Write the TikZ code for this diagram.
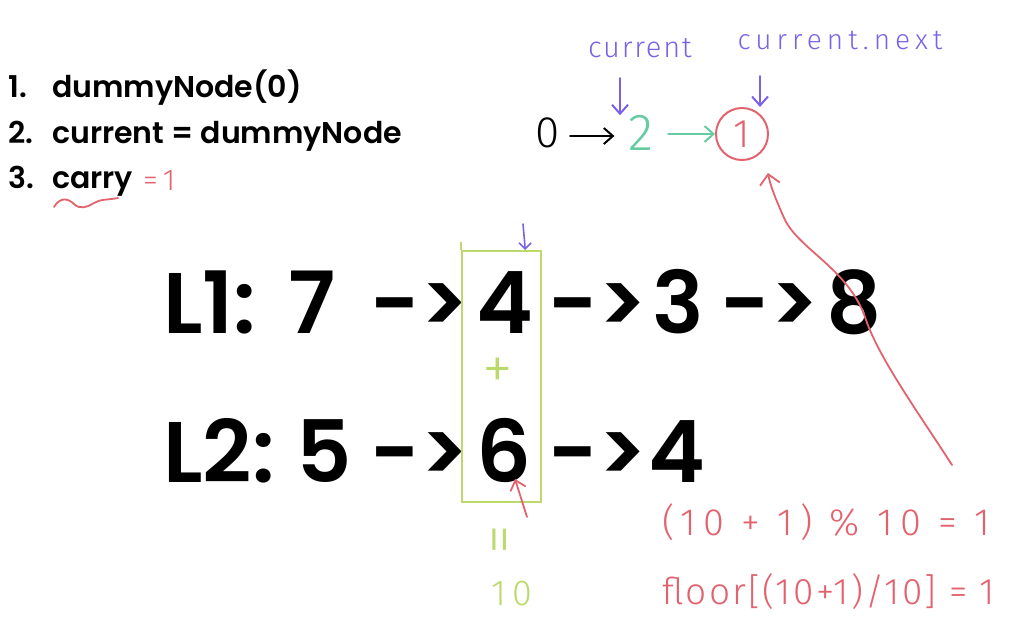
\documentclass[tikz,border=0pt]{standalone}
\usepackage{fontspec}
\setmainfont{Poppins}[UprightFont={* SemiBold}]
\newfontfamily\hand{Fira Sans}[UprightFont={* Light}]
\newfontfamily\handsp{Fira Sans}[UprightFont={* Light},LetterSpace=18]
\newfontfamily\handsm{Fira Sans}[UprightFont={* Light},LetterSpace=6]
\usetikzlibrary{arrows.meta}
\definecolor{hpurple}{HTML}{7A62E6}
\definecolor{hteal}{HTML}{66CBA0}
\definecolor{hred}{HTML}{E2636E}
\definecolor{hgreen}{HTML}{BCD96C}
\tikzset{
  lst/.style={font=\fontsize{30}{30}\selectfont, inner sep=0pt, anchor=base west},
  big/.style={font=\fontsize{86}{86}\selectfont, inner sep=0pt, anchor=base west},
  hw/.style={font=\hand\fontsize{30}{30}\selectfont, inner sep=0pt},
  barb/.style={-{Straight Barb[length=9pt,width=16pt]}, line width=2pt, line cap=round},
}
\begin{document}
\begin{tikzpicture}[x=1pt,y=-1pt]
\useasboundingbox (0,0) rectangle (1024,630);
% list
\node[lst] (k1) at (8,97) {1.};
\node[lst] (t1) at (52,97) {dummyNode(0)};
\node[lst] (k2) at (8,143) {2.};
\node[lst] (t2) at (52,143) {current = dummyNode};
\node[lst] (k3) at (8,188) {3.};
\node[lst] (t3) at (52,188) {carry};
\node[hw, text=hred, anchor=base west, font=\handsp\fontsize{30}{30}\selectfont] (eq1) at (143,190) {=1};
\draw[hred, line width=1.8pt, line cap=round] (54,207) .. controls (60,197) and (68,198) .. (74,204) .. controls (80,210) and (88,207) .. (94,203) .. controls (100,199) and (108,200) .. (118,198);
% top diagram
\node[hw, text=hpurple, font=\handsm\fontsize{29}{29}\selectfont] (cur) at (640,48) {current};
\node[hw, text=hpurple, font=\handsp\fontsize{28}{28}\selectfont] (curn) at (840,40) {current.next};
\node[hw, text=black, font=\hand\fontsize{44}{44}\selectfont] (z) at (548,133) {0};
\node[hw, text=hteal, font=\hand\fontsize{52}{52}\selectfont] (two) at (641,133) {2};
\node[hw, text=hred, draw=hred, line width=2pt, circle, minimum size=52pt, font=\hand\fontsize{40}{40}\selectfont] (one) at (742,134) {1};
\coordinate (za) at (570,136);
\draw[barb, black, shorten >=14pt] (za) -- (za -| two.west);
\coordinate (ta) at (668,134);
\draw[barb, hteal] (ta) -- (one.west);
\coordinate (ca) at (620,78);
\draw[barb, hpurple] (ca) -- (ca |- two.north);
\coordinate (cn) at (760,76);
\draw[barb, hpurple] (cn) -- (cn |- one.north);
% main lines
\node[big] (l1) at (163,333) {L1:};
\node[big] (n7) at (288,333) {7};
\node[big] (a1) at (370,333) {->};
\node[big] (n4) at (476,333) {4};
\node[big] (a2) at (548,333) {->};
\node[big] (n3) at (652,333) {3};
\node[big] (a3) at (720,333) {->};
\node[big] (n8) at (826,333) {8};
\node[big] (l2) at (163,482) {L2:};
\node[big] (n5) at (296,482) {5};
\node[big] (b1) at (370,482) {->};
\node[big] (n6) at (476,482) {6};
\node[big] (b2) at (548,482) {->};
\node[big] (m4) at (648,482) {4};
% green box
\node[draw=hgreen, line width=2pt, minimum width=79pt, minimum height=251pt, inner sep=0pt] (box) at (501.5,376.5) {};
\draw[hgreen, line width=2pt] (box.north west) -- ++(0,-8);
\node[hw, text=hgreen, font=\hand\fontsize{62}{62}\selectfont] (plus) at (498,374) {+};
\node[hw, text=hgreen, rotate=90, font=\hand\fontsize{60}{60}\selectfont] (veq) at (506,540) {=};
\node[hw, text=hgreen, font=\handsp\fontsize{36}{36}\selectfont] (ten) at (512,594) {10};
% small arrows at box
\coordinate (pa) at (523,224);
\draw[-{Straight Barb[length=6pt,width=12pt]}, hpurple, line width=1.6pt, line cap=round] (pa) .. controls (524,236) and (525,245) .. (box.north -| 525,0);
\coordinate (ra) at (527,517);
\draw[-{Straight Barb[length=9pt,width=16pt]}, hred, line width=1.8pt, line cap=round] (ra) -- (515,479);
% long red curve
\coordinate (lc) at (952,465);
\coordinate (lt) at (768,173);
\draw[-{Straight Barb[length=10pt,width=20pt]}, hred, line width=1.8pt, line cap=round] (lc) .. controls (920,415) and (880,360) .. (866,320) .. controls (850,270) and (800,250) .. (785,220) .. controls (776,200) and (770,185) .. (lt);
% formulas
\node[hw, text=hred, anchor=west, font=\handsp\fontsize{38}{38}\selectfont] (f1) at (662,522) {(10 + 1) \% 10 = 1};
\node[hw, text=hred, anchor=west, font=\handsm\fontsize{37}{37}\selectfont] (f2) at (662,592) {floor[(10+1)/10] = 1};
\end{tikzpicture}
\end{document}
